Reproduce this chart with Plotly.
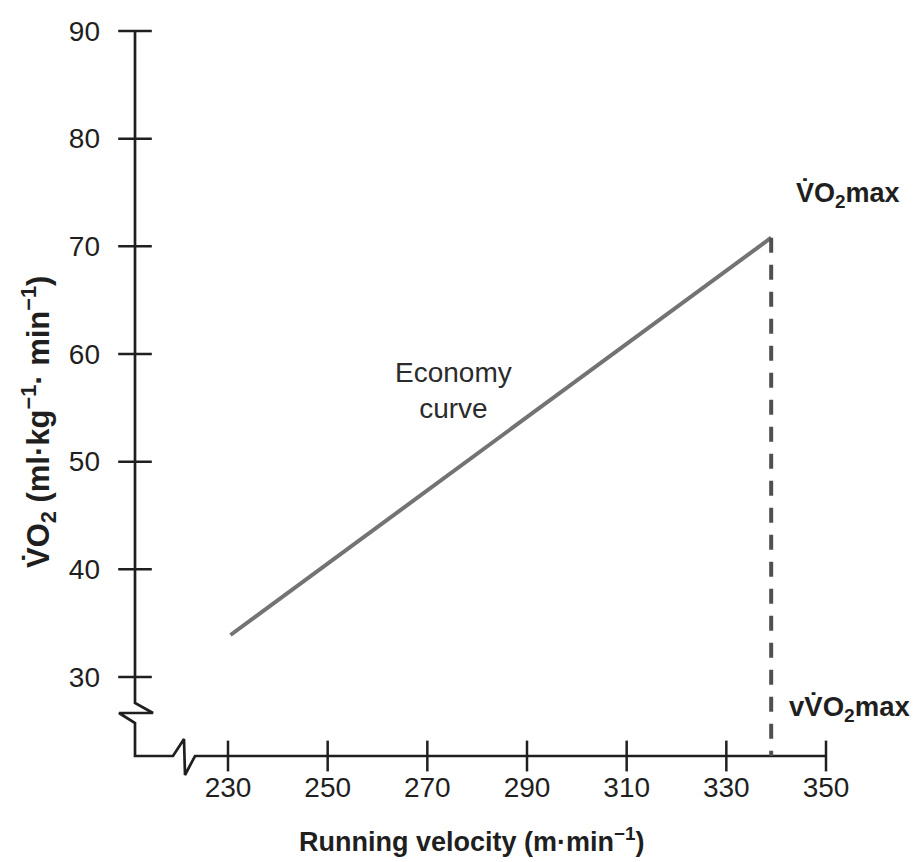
import plotly.graph_objects as go

# ---- data ----
velocity = [230.5, 339]          # running velocity (m/min)
vo2 = [33.9, 70.8]               # VO2 (ml/kg/min)
v_vo2max = 339                   # velocity at VO2max
vo2max = 70.8
x_ticks = [230, 250, 270, 290, 310, 330, 350]
y_ticks = [30, 40, 50, 60, 70, 80, 90]

# ---- pixel calibration (figure fills the whole page, no margins) ----
W, H = 918, 862
PX_X0, PX_X1 = 220, 818   # pixel x of 230 and 350
PX_Y0, PX_Y1 = 669, 23    # pixel y of 30 and 90


def dx(px):
    return x_ticks[0] + (px - PX_X0) * (x_ticks[-1] - x_ticks[0]) / (PX_X1 - PX_X0)


def dy(py):
    return y_ticks[0] + (PX_Y0 - py) * (y_ticks[-1] - y_ticks[0]) / (PX_Y0 - PX_Y1)


AX_PX = 127   # pixel x of y-axis line
AY_PX = 748   # pixel y of x-axis line
axis_x = dx(AX_PX)
axis_y = dy(AY_PX)

INK = "#1f1f1f"
FONT = "Liberation Sans, Arial, sans-serif"

fig = go.Figure()

# axis lines with break marks
path_px = [(AX_PX, 695), (145, 705), (111, 705), (AX_PX, 715), (AX_PX, AY_PX),
           (165, AY_PX), (176, 731), (177, 767), (187, AY_PX)]
ax_x = [axis_x] + [dx(p[0]) for p in path_px] + [x_ticks[-1]]
ax_y = [y_ticks[-1]] + [dy(p[1]) for p in path_px] + [axis_y]
fig.add_trace(go.Scatter(x=ax_x, y=ax_y, mode="lines",
                         line=dict(color=INK, width=2.7),
                         hoverinfo="skip", showlegend=False))

# tick marks crossing the axes
fig.add_trace(go.Scatter(x=x_ticks, y=[axis_y] * len(x_ticks), mode="markers",
                         marker=dict(symbol="line-ns", size=22,
                                     line=dict(color=INK, width=2.5)),
                         hoverinfo="skip", showlegend=False, cliponaxis=False))
fig.add_trace(go.Scatter(x=[axis_x] * len(y_ticks), y=y_ticks, mode="markers",
                         marker=dict(symbol="line-ew", size=24,
                                     line=dict(color=INK, width=2.5)),
                         hoverinfo="skip", showlegend=False, cliponaxis=False))

# economy curve
fig.add_trace(go.Scatter(x=velocity, y=vo2, mode="lines",
                         line=dict(color="#737373", width=4),
                         hoverinfo="skip", showlegend=False))

# dashed line at vVO2max
fig.add_trace(go.Scatter(x=[v_vo2max, v_vo2max], y=[vo2max, axis_y], mode="lines",
                         line=dict(color="#505050", width=4, dash="15px,12px"),
                         hoverinfo="skip", showlegend=False))

annotations = [
    dict(x=dx(445), y=dy(382), text="Economy<br>curve", showarrow=False,
         font=dict(family=FONT, size=28, color="#2b2b2b"), align="center"),
    dict(x=dx(786), y=dy(187), text="<b>V\u0307O<sub>2</sub>max</b>", showarrow=False,
         xanchor="left", font=dict(family=FONT, size=27, color=INK)),
    dict(x=dx(779), y=dy(700), text="<b>vV\u0307O<sub>2</sub>max</b>", showarrow=False,
         xanchor="left", font=dict(family=FONT, size=27.5, color=INK)),
    dict(x=dx(464), y=dy(832), text="<b>Running velocity (m·min<sup>−1</sup>)</b>",
         showarrow=False, font=dict(family=FONT, size=27, color=INK)),
    dict(x=dx(30), y=dy(414),
         text="<b>V\u0307O<sub>2</sub> (ml·kg<sup>−1</sup>· min<sup>−1</sup>)</b>",
         showarrow=False, textangle=-90, font=dict(family=FONT, size=31, color=INK)),
]

fig.update_layout(
    width=W, height=H,
    margin=dict(l=0, r=0, t=0, b=0),
    paper_bgcolor="white", plot_bgcolor="white",
    font=dict(family=FONT, color=INK),
    annotations=annotations,
    xaxis=dict(range=[dx(0), dx(W)], domain=[0, 1], anchor="free",
               position=(H - AY_PX) / H, showline=False, showgrid=False,
               zeroline=False, ticks="", tickvals=x_ticks,
               ticktext=[str(v) for v in x_ticks], ticklabelstandoff=12,
               tickfont=dict(family=FONT, size=28, color=INK), automargin=False),
    yaxis=dict(range=[dy(H), dy(0)], domain=[0, 1], anchor="free",
               position=AX_PX / W, showline=False, showgrid=False,
               zeroline=False, ticks="", tickvals=y_ticks,
               ticktext=[str(v) for v in y_ticks], ticklabelstandoff=35,
               tickfont=dict(family=FONT, size=28, color=INK), automargin=False),
)

fig.write_html("out.html")
